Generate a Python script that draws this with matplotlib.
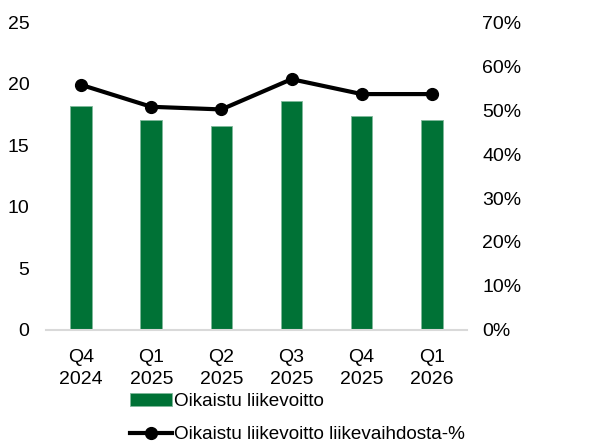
import matplotlib.pyplot as plt
from matplotlib.ticker import FuncFormatter

plt.rcParams['font.family'] = ['Liberation Sans', 'DejaVu Sans']

quarters = ["Q4\n2024", "Q1\n2025", "Q2\n2025", "Q3\n2025", "Q4\n2025", "Q1\n2026"]
profit = [18.2, 17.1, 16.6, 18.6, 17.4, 17.1]
margin = [55.8, 50.8, 50.2, 57.1, 53.7, 53.7]

green = "#007236"

fig = plt.figure(figsize=(6.15, 4.43), dpi=100)
ax = fig.add_axes([0.075, 0.256, 0.684, 0.693])
ax2 = ax.twinx()

x = range(len(quarters))
bars = ax.bar(x, profit, width=0.31, color=green, edgecolor="#7fb89a", linewidth=0.6,
              label="Oikaistu liikevoitto", zorder=2)
line, = ax2.plot(x, margin, color="black", lw=3, marker="o", markersize=8.5,
                 label="Oikaistu liikevoitto liikevaihdosta-%")

ax.set_xlim(-0.5, 5.5)
ax.set_ylim(0, 25)
ax.set_yticks([0, 5, 10, 15, 20, 25])
ax2.set_ylim(0, 70)
ax2.set_yticks(range(0, 71, 10))
ax2.yaxis.set_major_formatter(FuncFormatter(lambda v, p: f"{v:.0f}%"))

ax.set_xticks(list(x))
ax.set_xticklabels(quarters, linespacing=1.35)

for a in (ax, ax2):
    for s in ["top", "left", "right", "bottom"]:
        a.spines[s].set_visible(False)
    a.tick_params(length=0, labelsize=14)
ax.spines["bottom"].set_visible(True)
ax.spines["bottom"].set_color("#d9d9d9")
ax.spines["bottom"].set_linewidth(1.5)
ax.tick_params(axis="y", pad=12)
ax.tick_params(axis="x", pad=14)
ax2.tick_params(axis="y", pad=11)

fig.legend([bars, line], ["Oikaistu liikevoitto", "Oikaistu liikevoitto liikevaihdosta-%"],
           loc="upper left", bbox_to_anchor=(0.211, 0.113), frameon=False, fontsize=13.6,
           handlelength=2.25, handletextpad=0.1, labelspacing=0.85, borderaxespad=0,
           borderpad=0)

fig.savefig("out.png", dpi=100)
